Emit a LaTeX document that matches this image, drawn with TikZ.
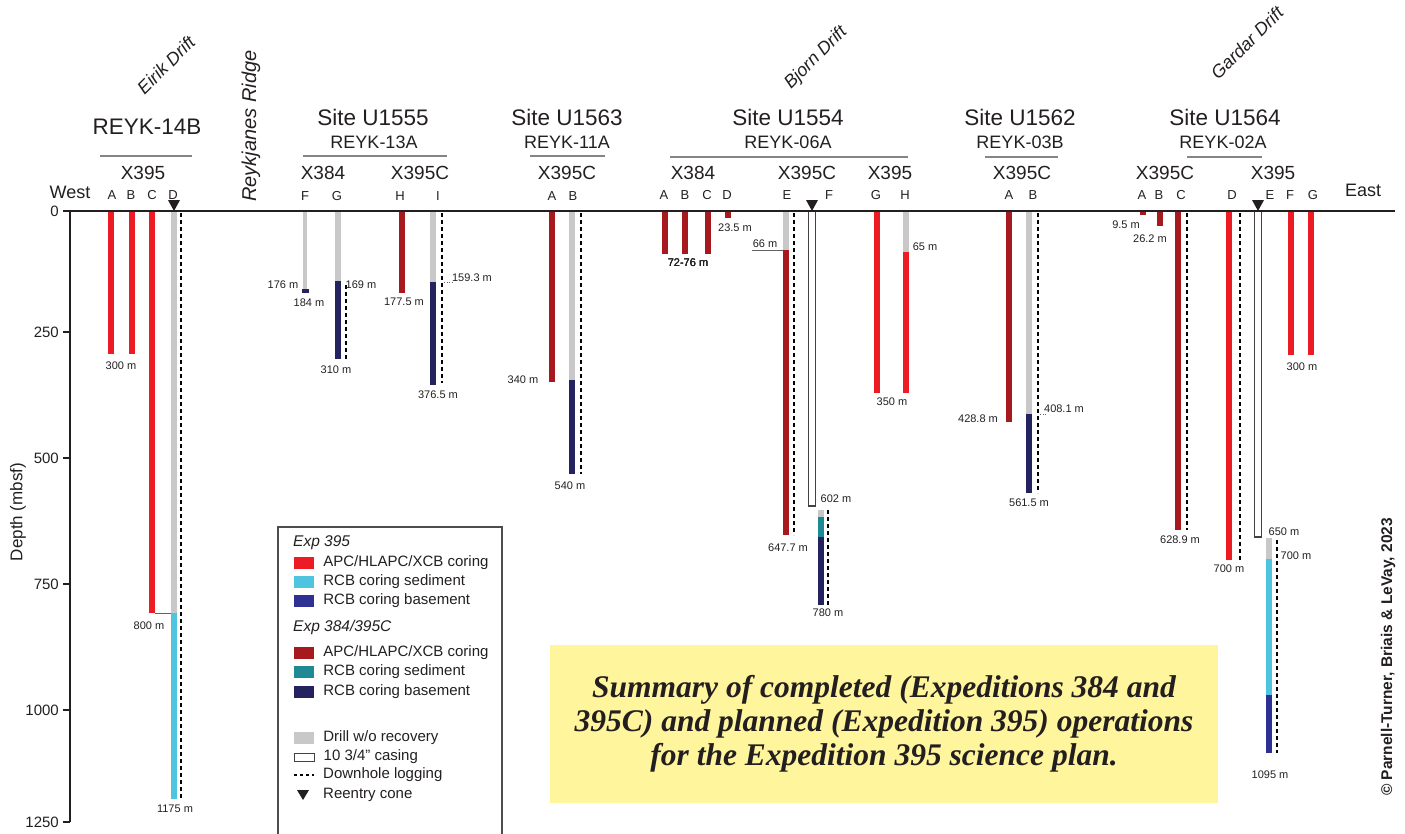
\documentclass[tikz,border=0pt]{standalone}
\usepackage{fontspec}
\setmainfont{Liberation Sans}
\newfontfamily\captionserif{Liberation Serif}
\usetikzlibrary{positioning}
\definecolor{txt}{HTML}{231F20}
\definecolor{newapc}{HTML}{ED1C24}
\definecolor{newsed}{HTML}{4FC4DF}
\definecolor{newbas}{HTML}{2E3192}
\definecolor{oldapc}{HTML}{A6191F}
\definecolor{oldsed}{HTML}{1F8A93}
\definecolor{oldbas}{HTML}{24235F}
\definecolor{nocore}{HTML}{C8C8C8}
\definecolor{notebox}{HTML}{FFF59D}
\newcommand{\corebar}[4]{\fill[#4] ({#1-3},#2) rectangle ({#1+3},#3);}
\newcommand{\logrun}[3]{\draw[logging] (#1,#2) -- (#1,#3);}
\newcommand{\casing}[3]{\draw[casingbox] ({#1-3.5},#2) rectangle ({#1+3.5},#3);}
\newcommand{\cone}[1]{\fill[txt] ({#1-6},200) -- ({#1+6},200) -- (#1,211) -- cycle;}
\newcommand{\apcxcb}{APC/HLAPC/XCB coring}
\begin{document}
\begin{tikzpicture}[x=1pt, y=-1pt,
  every node/.style={text=txt, inner sep=0pt},
  site/.style={font=\fontsize{22.5}{26}\selectfont},
  reyk/.style={font=\fontsize{18}{21}\selectfont},
  expn/.style={font=\fontsize{19}{22}\selectfont},
  hole/.style={font=\fontsize{13}{15}\selectfont},
  compass/.style={font=\fontsize{18}{21}\selectfont},
  mlabel/.style={font=\fontsize{11}{13}\selectfont},
  axisnum/.style={font=\fontsize{15}{18}\selectfont, anchor=east},
  drift/.style={font=\itshape\fontsize{18}{21}\selectfont},
  rule/.style={draw=txt!55, line width=1.2pt},
  leader/.style={draw=txt!70, line width=0.6pt},
  logging/.style={draw=black, line width=1.8pt, dash pattern=on 4pt off 3pt},
  casingbox/.style={draw=txt!85, fill=white, line width=1.1pt},
  legtitle/.style={font=\itshape\fontsize{15.5}{18}\selectfont, anchor=west},
  legtext/.style={font=\fontsize{15}{18}\selectfont, anchor=west},
  swatch/.style={minimum width=20pt, minimum height=12pt}]
\useasboundingbox (0,0) rectangle (1405,833);

% drifts and ridge
\node[drift, rotate=45] (eirik) at (166,65) {Eirik Drift};
\node[drift, rotate=45] (bjorn) at (816,58) {Bjorn Drift};
\node[drift, rotate=45] (gardar) at (1247,43) {Gardar Drift};
\node[drift, rotate=90, font=\itshape\fontsize{20}{22}\selectfont] (ridge) at (251,126) {Reykjanes Ridge};

% site headers
\node[site] (r14b) at (147,127) {REYK-14B};
\draw[rule] (100,156) -- (192,156);
\node[expn] (x14b) at (143,173) {X395};

\node[site] (s1555) at (373,117) {Site U1555};
\node[reyk] (r13a) at (374,142) {REYK-13A};
\draw[rule] (303,156) -- (447,156);
\node[expn] (x1555a) at (323,173) {X384};
\node[expn] (x1555b) at (420,173) {X395C};

\node[site] (s1563) at (567,117) {Site U1563};
\node[reyk] (r11a) at (567,142) {REYK-11A};
\draw[rule] (530,156) -- (605,156);
\node[expn] (x1563) at (567,173) {X395C};

\node[site] (s1554) at (788,117) {Site U1554};
\node[reyk] (r06a) at (788,142) {REYK-06A};
\draw[rule] (670,157) -- (908,157);
\node[expn] (x1554a) at (693,173) {X384};
\node[expn] (x1554b) at (807,173) {X395C};
\node[expn] (x1554c) at (890,173) {X395};

\node[site] (s1562) at (1020,117) {Site U1562};
\node[reyk] (r03b) at (1020,142) {REYK-03B};
\draw[rule] (985,157) -- (1058,157);
\node[expn] (x1562) at (1022,173) {X395C};

\node[site] (s1564) at (1225,117) {Site U1564};
\node[reyk] (r02a) at (1223,142) {REYK-02A};
\draw[rule] (1187,157) -- (1262,157);
\node[expn] (x1564a) at (1165,173) {X395C};
\node[expn] (x1564b) at (1273,173) {X395};

\node[compass] (west) at (70,192) {West};
\node[compass] (east) at (1363,190) {East};

% hole letters
\foreach \n/\x in {A/112,B/131,C/152,D/173}
  \node[hole] (ha\n) at (\x,195) {\n};
\foreach \n/\x in {F/305,G/337,H/400,I/438}
  \node[hole] (hb\n) at (\x,196) {\n};
\foreach \n/\x in {A/552,B/573}
  \node[hole] (hc\n) at (\x,196) {\n};
\foreach \n/\x in {A/664,B/685,C/707,D/727,E/787,F/829,G/876,H/905}
  \node[hole] (hd\n) at (\x,195) {\n};
\foreach \n/\x in {A/1009,B/1033}
  \node[hole] (he\n) at (\x,195) {\n};
\foreach \n/\x in {A/1142,B/1159,C/1181,D/1232,E/1270,F/1290,G/1313}
  \node[hole] (hf\n) at (\x,195) {\n};

% REYK-14B
\corebar{111}{211}{354}{newapc}
\corebar{132}{211}{354}{newapc}
\corebar{152}{211}{613}{newapc}
\corebar{174}{211}{613}{nocore}
\corebar{174}{613}{799}{newsed}
\logrun{181}{213}{799}
\draw[leader] (155,613) -- (171,613);
\node[mlabel] (m300a) at (121,366) {300 m};
\node[mlabel] (m800) at (149,626) {800 m};
\node[mlabel] (m1175) at (175,809) {1175 m};

% U1555
\fill[nocore] (303,211) rectangle (307,289);
\fill[oldbas] (302,289) rectangle (309,293);
\node[mlabel] (m176) at (283,285) {176 m};
\node[mlabel] (m184) at (309,303) {184 m};
\corebar{338}{211}{281}{nocore}
\corebar{338}{281}{359}{oldbas}
\logrun{346}{285}{359}
\node[mlabel] (m169) at (361,285) {169 m};
\node[mlabel] (m310) at (336,370) {310 m};
\corebar{402}{211}{293}{oldapc}
\node[mlabel] (m177) at (404,302) {177.5 m};
\corebar{433}{211}{282}{nocore}
\corebar{433}{282}{385}{oldbas}
\logrun{442}{213}{383}
\draw[leader, dotted] (444,282) -- (452,282);
\node[mlabel] (m159) at (472,278) {159.3 m};
\node[mlabel] (m376) at (438,395) {376.5 m};

% U1563
\corebar{552}{211}{382}{oldapc}
\node[mlabel] (m340) at (523,380) {340 m};
\corebar{572}{211}{380}{nocore}
\corebar{572}{380}{474}{oldbas}
\logrun{581}{213}{474}
\node[mlabel] (m540) at (570,486) {540 m};

% U1554
\foreach \x in {665,685,708}
  \corebar{\x}{211}{254}{oldapc}
\node[mlabel] (m72) at (688,263) {72-76 m};
\corebar{728}{212}{218}{oldapc}
\node[mlabel] (m23) at (735,228) {23.5 m};
\corebar{786}{211}{250}{nocore}
\corebar{786}{250}{535}{oldapc}
\logrun{794}{213}{535}
\draw[leader] (752,250) -- (783,250);
\node[mlabel] (m66) at (765,244) {66 m};
\node[mlabel] (m647) at (788,548) {647.7 m};
\casing{812}{211}{506}
\corebar{821}{510}{517}{nocore}
\corebar{821}{517}{537}{oldsed}
\corebar{821}{537}{605}{oldbas}
\logrun{828}{510}{605}
\node[mlabel] (m602) at (836,499) {602 m};
\node[mlabel] (m780) at (828,613) {780 m};
\corebar{877}{211}{393}{newapc}
\corebar{906}{211}{252}{nocore}
\corebar{906}{252}{393}{newapc}
\node[mlabel] (m65) at (925,247) {65 m};
\node[mlabel] (m350) at (892,402) {350 m};

% U1562
\corebar{1009}{211}{422}{oldapc}
\node[mlabel] (m428) at (978,419) {428.8 m};
\corebar{1029}{211}{414}{nocore}
\corebar{1029}{414}{493}{oldbas}
\logrun{1038}{213}{493}
\draw[leader, dotted] (1040,414) -- (1046,414);
\node[mlabel] (m408) at (1064,409) {408.1 m};
\node[mlabel] (m561) at (1029,503) {561.5 m};

% U1564
\corebar{1143}{211}{215}{oldapc}
\node[mlabel] (m9) at (1126,225) {9.5 m};
\corebar{1160}{211}{226}{oldapc}
\node[mlabel] (m26) at (1150,239) {26.2 m};
\corebar{1178}{211}{530}{oldapc}
\logrun{1187}{213}{530}
\node[mlabel] (m628) at (1180,540) {628.9 m};
\corebar{1229}{211}{560}{newapc}
\logrun{1240}{213}{560}
\node[mlabel] (m700a) at (1229,569) {700 m};
\casing{1258}{211}{537}
\corebar{1269}{538}{559}{nocore}
\corebar{1269}{559}{695}{newsed}
\corebar{1269}{695}{753}{newbas}
\logrun{1277}{540}{753}
\node[mlabel] (m650) at (1284,532) {650 m};
\node[mlabel] (m700b) at (1296,556) {700 m};
\node[mlabel] (m1095) at (1270,775) {1095 m};
\corebar{1291}{211}{355}{newapc}
\corebar{1311}{211}{355}{newapc}
\node[mlabel] (m300b) at (1302,367) {300 m};

% seafloor, cones and depth axis
\draw[txt, line width=1.5pt] (63,211) -- (1395,211);
\foreach \x in {174,812,1258}
  \cone{\x}
\draw[txt, line width=1.5pt] (70,211) -- (70,822);
\foreach \d/\y in {0/211,250/332,500/458,750/584,1000/710,1250/822} {
  \draw[txt, line width=1.3pt] (63,\y) -- (70,\y);
  \node[axisnum] (tick\d) at (59,\y) {\d};
}
\node[rotate=90, font=\fontsize{17}{19}\selectfont] (depth) at (18,512) {Depth (mbsf)};

% legend
\draw[txt!80, line width=1.2pt] (278,840) -- (278,527) -- (502,527) -- (502,840);
\node[legtitle] (exp395) at (293,543) {Exp 395};
\foreach \c/\t/\y [count=\i] in {newapc/\apcxcb/563, newsed/RCB coring sediment/582, newbas/RCB coring basement/601} {
  \node[swatch, fill=\c] (swa\i) at (304,\y) {};
  \node[legtext, right=9pt of swa\i] (lta\i) {\t};
}
\node[legtitle] (exp384) at (293,627) {Exp 384/395C};
\foreach \c/\t/\y [count=\i] in {oldapc/\apcxcb/653, oldsed/RCB coring sediment/672, oldbas/RCB coring basement/692} {
  \node[swatch, fill=\c] (swb\i) at (304,\y) {};
  \node[legtext, right=9pt of swb\i] (ltb\i) {\t};
}
\node[swatch, fill=nocore] (swc1) at (304,738) {};
\node[legtext, right=9pt of swc1] (ltc1) {Drill w/o recovery};
\node[swatch, minimum height=8pt, draw=txt!85, line width=1pt, fill=white] (swc2) at (304,757) {};
\node[legtext, right=9pt of swc2] (ltc2) {10 3/4" casing};
\coordinate (logw) at (294,775);
\coordinate (loge) at (314,775);
\draw[black, line width=1.2pt, dash pattern=on 3pt off 3pt] (logw) -- (loge);
\node[legtext] (ltc3) at (323,775) {Downhole logging};
\fill[txt] (297,790) -- (309,790) -- (303,800) -- cycle;
\node[legtext] (ltc4) at (323,795) {Reentry cone};

% summary box
\node[fill=notebox, minimum width=668pt, minimum height=158pt, align=center,
  font=\captionserif\bfseries\itshape\fontsize{31.5}{34}\selectfont] (summary) at (884,724)
  {Summary of completed (Expeditions 384 and\\
   395C) and planned (Expedition 395) operations\\
   for the Expedition 395 science plan.};

% credit
\node[rotate=90, font=\bfseries\fontsize{15.5}{18}\selectfont] (credit) at (1388,657)
  {© Parnell-Turner, Briais \& LeVay, 2023};
\end{tikzpicture}
\end{document}
